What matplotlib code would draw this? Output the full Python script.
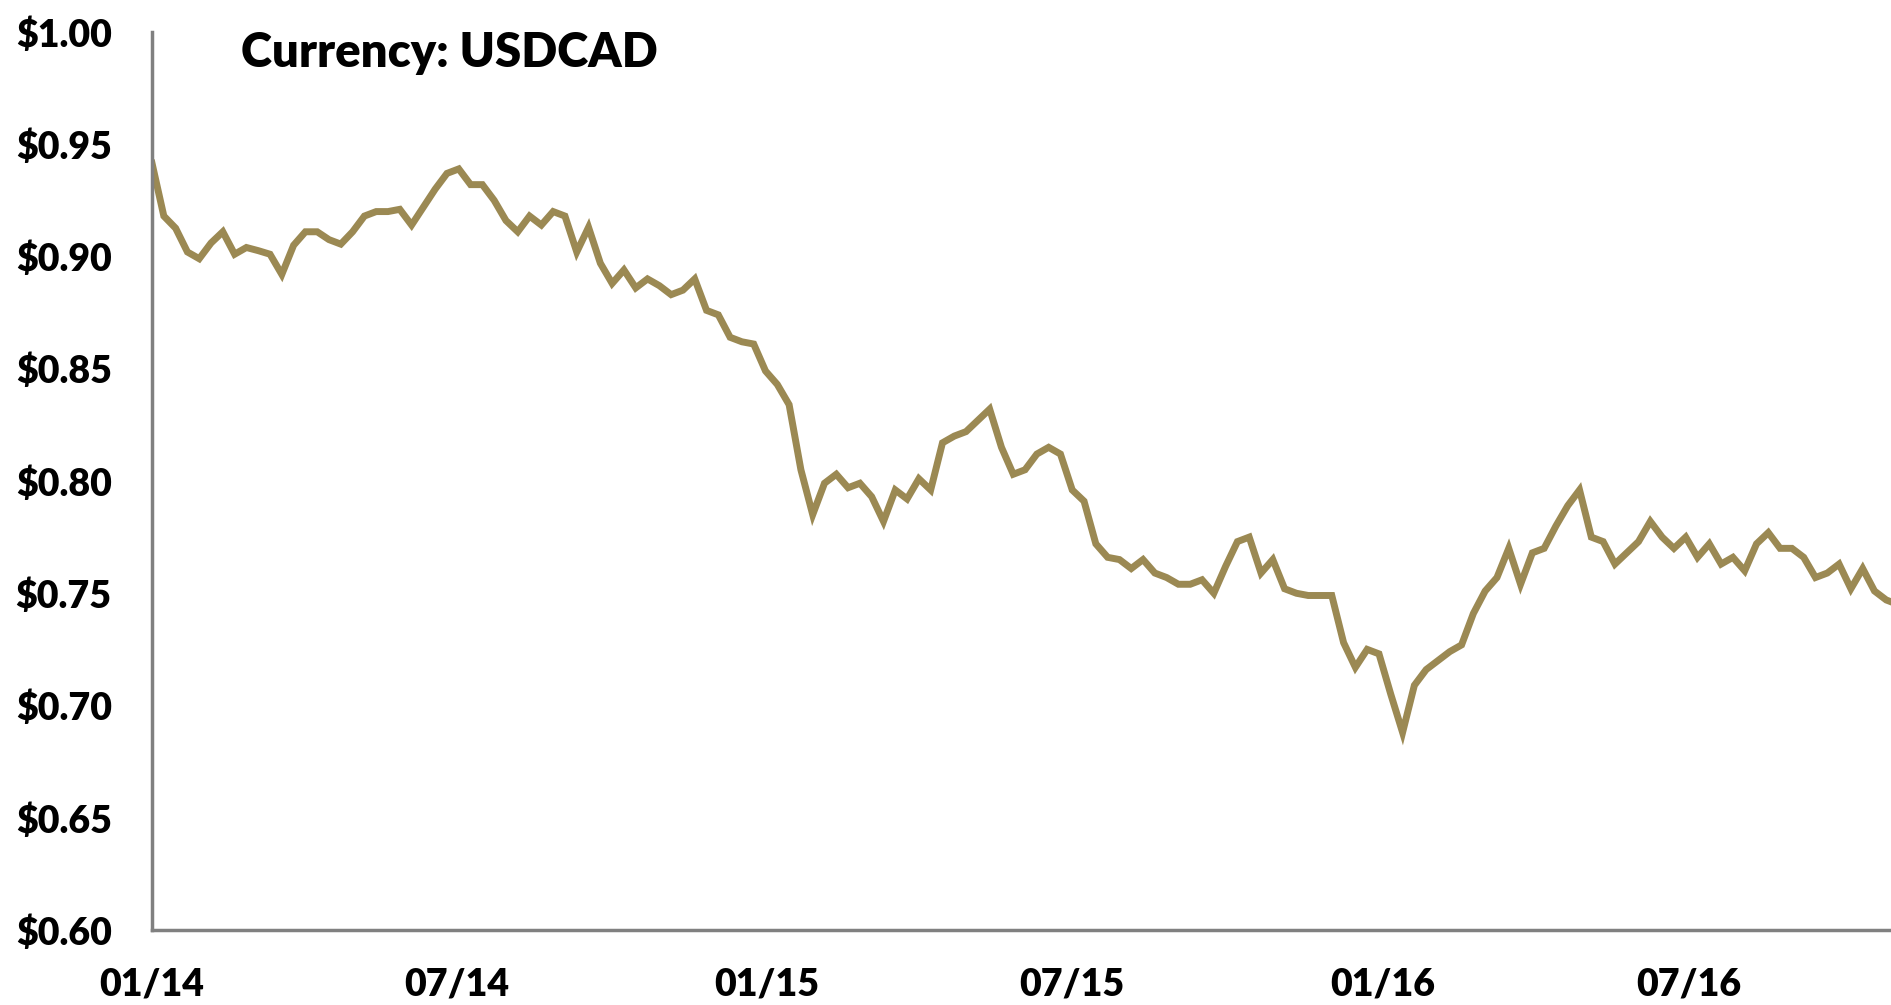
import pandas as pd
import matplotlib
matplotlib.use("Agg")
from matplotlib import pyplot as plt
import matplotlib.dates as mdates
from matplotlib.ticker import FuncFormatter

# weekly USDCAD
start_date = "2014-01-01"
usdcad = [
    0.9415, 0.918, 0.9126, 0.902, 0.899, 0.906, 0.911, 0.901, 0.904, 0.9026,
    0.901, 0.892, 0.905, 0.911, 0.911, 0.9075, 0.9055, 0.911, 0.918, 0.920,
    0.920, 0.921, 0.914, 0.922, 0.930, 0.937, 0.939, 0.932, 0.932, 0.925,
    0.916, 0.911, 0.918, 0.914, 0.920, 0.918, 0.902, 0.913, 0.897, 0.888,
    0.894, 0.886, 0.890, 0.887, 0.883, 0.885, 0.890, 0.876, 0.874, 0.864,
    0.862, 0.861, 0.849, 0.843, 0.834, 0.805, 0.785, 0.799, 0.803, 0.797,
    0.799, 0.793, 0.782, 0.796, 0.792, 0.801, 0.796, 0.817, 0.820, 0.822,
    0.827, 0.832, 0.815, 0.803, 0.805, 0.812, 0.815, 0.812, 0.796, 0.791,
    0.772, 0.766, 0.765, 0.761, 0.765, 0.759, 0.757, 0.754, 0.754, 0.756,
    0.750, 0.762, 0.773, 0.775, 0.759, 0.765, 0.752, 0.750, 0.749, 0.749,
    0.749, 0.728, 0.717, 0.725, 0.723, 0.705, 0.688, 0.709, 0.716, 0.720,
    0.724, 0.727, 0.741, 0.751, 0.757, 0.770, 0.754, 0.768, 0.770, 0.780,
    0.789, 0.796, 0.775, 0.773, 0.763, 0.768, 0.773, 0.782, 0.775, 0.770,
    0.775, 0.766, 0.772, 0.763, 0.766, 0.760, 0.772, 0.777, 0.770, 0.770,
    0.766, 0.757, 0.759, 0.763, 0.752, 0.761, 0.751, 0.747, 0.745,
]
title = "Currency: USDCAD"
y_ticks = [0.60, 0.65, 0.70, 0.75, 0.80, 0.85, 0.90, 0.95, 1.00]

dates = pd.date_range(start_date, periods=len(usdcad), freq="7D")

plt.rcParams['font.family'] = ['Lato', 'DejaVu Sans']

fig = plt.figure(figsize=(18.91, 10.05), dpi=100)
ax = fig.add_axes([0.0804, 0.0746, 0.9196, 0.8936])

ax.plot(dates, usdcad, color="#9b8953", linewidth=5, solid_joinstyle="miter")

ax.set_ylim(0.60, 1.00)
ax.set_yticks(y_ticks)
ax.yaxis.set_major_formatter(FuncFormatter(lambda v, p: f"${v:.2f}"))
ax.set_xlim(dates[0], dates[0] + pd.Timedelta(days=7 * 147.4))
ax.xaxis.set_major_locator(mdates.MonthLocator(bymonth=[1, 7]))
ax.xaxis.set_major_formatter(mdates.DateFormatter("%m/%y"))

for s in ["top", "right"]:
    ax.spines[s].set_visible(False)
for s in ["left", "bottom"]:
    ax.spines[s].set_color("#808080")
    ax.spines[s].set_linewidth(2.5)

ax.tick_params(axis="y", length=0, pad=29, labelsize=27)
ax.tick_params(axis="x", length=0, pad=27, labelsize=27)
for lab in ax.get_xticklabels() + ax.get_yticklabels():
    lab.set_fontweight("heavy")

ax.text(241, 1005 - 53, title, transform=None, fontsize=34, fontweight="heavy",
        va="center", ha="left")

fig.savefig("out.png", dpi=100)
plt.close()
